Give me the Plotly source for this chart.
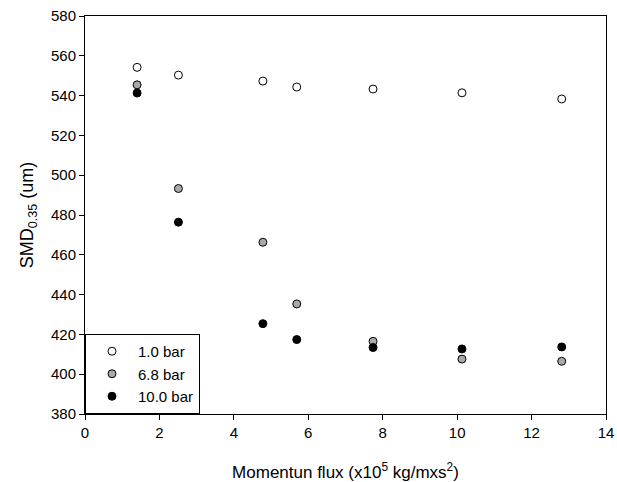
import plotly.graph_objects as go

flux = [1.40, 2.51, 4.78, 5.69, 7.74, 10.13, 12.81]
smd_1_0 = [554.2, 550.3, 547.3, 544.3, 543.3, 541.4, 538.3]
smd_6_8 = [545.4, 493.3, 466.3, 435.3, 416.5, 407.6, 406.5]
smd_10_0 = [541.3, 476.4, 425.4, 417.4, 413.4, 412.7, 413.7]
series_names = ["1.0 bar", "6.8 bar", "10.0 bar"]
fill_colors = ["white", "#a9a9a9", "black"]

fig = go.Figure()
for name, vals, col in zip(series_names, [smd_1_0, smd_6_8, smd_10_0], fill_colors):
    fig.add_trace(go.Scatter(
        x=flux, y=vals, mode="markers", name=name,
        marker=dict(size=8, color=col, line=dict(color="black", width=1)),
    ))

font = "Arial, Liberation Sans, sans-serif"
fig.update_layout(
    width=617, height=482,
    margin=dict(l=85, r=11, t=16, b=68),
    paper_bgcolor="white", plot_bgcolor="white",
    font=dict(family=font, size=15, color="black"),
    showlegend=True,
    legend=dict(x=0, y=0, xanchor="left", yanchor="bottom",
                bordercolor="black", borderwidth=1, bgcolor="white",
                font=dict(size=15), itemwidth=42, tracegroupgap=0),
    xaxis=dict(range=[0, 14], tickvals=list(range(0, 15, 2)),
               showgrid=False, zeroline=False, automargin=False,
               showline=True, linecolor="black", linewidth=1, mirror=True,
               ticks="outside", ticklen=5, tickcolor="black",
               tickfont=dict(size=15),
               title=dict(text="Momentun flux (x10<sup>5</sup> kg/mxs<sup>2</sup>)",
                          font=dict(size=17), standoff=26)),
    yaxis=dict(range=[380, 580], tickvals=list(range(380, 581, 20)),
               showgrid=False, zeroline=False, automargin=False,
               showline=True, linecolor="black", linewidth=1, mirror=True,
               ticks="outside", ticklen=5, tickcolor="black",
               tickfont=dict(size=15),
               title=dict(text="SMD<sub>0.35</sub> (um)", font=dict(size=18),
                          standoff=12)),
)

fig.write_html("out.html")
